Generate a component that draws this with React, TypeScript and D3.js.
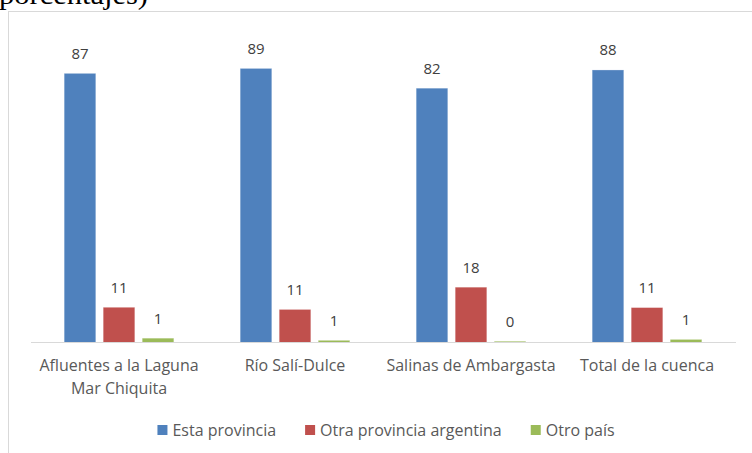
import React from "react";
import * as d3 from "d3";

const categories: string[][] = [
  ["Afluentes a la Laguna", "Mar Chiquita"],
  ["Río Salí-Dulce"],
  ["Salinas de Ambargasta"],
  ["Total de la cuenca"],
];
const seriesNames = ["Esta provincia", "Otra provincia argentina", "Otro país"];
const estaProvincia = [87.1, 88.7, 82.3, 88.2];
const otraProvincia = [11.4, 10.7, 17.9, 11.3];
const otroPais = [1.4, 0.7, 0.4, 1.0];
const colors = ["#4F81BD", "#C0504D", "#9BBB59"];
const headerText = "porcentajes)";

const W = 752;
const H = 453;
const FONT = "'Open Sans', sans-serif";

function measure(text: string, font: string): number {
  const c = document.createElement("canvas");
  const ctx = c.getContext("2d")!;
  ctx.font = font;
  return ctx.measureText(text).width;
}

export default function App() {
  const seriesValues = [estaProvincia, otraProvincia, otroPais];
  const catKeys = categories.map((c) => c.join(" "));
  const x0 = d3.scaleBand<string>().domain(catKeys).range([31, 735]).padding(0);
  const x1 = d3
    .scaleBand<string>()
    .domain(seriesNames)
    .range([0, x0.bandwidth()])
    .paddingInner(0.19)
    .paddingOuter(0.85);
  const y = d3.scaleLinear().domain([0, 100]).range([342.5, 33.5]);
  const fmt = d3.format(".0f");

  // legend layout
  const legendFontSize = 16;
  const legendFont = `${legendFontSize}px 'Open Sans'`;
  const sq = 10;
  const gapText = 5;
  const gapItem = 29;
  const widths = seriesNames.map((s) => measure(s, legendFont));
  const total =
    widths.reduce((a, b) => a + b, 0) + seriesNames.length * (sq + gapText) + (seriesNames.length - 1) * gapItem;
  let lx = 386 - total / 2;
  const legendItems = seriesNames.map((s, i) => {
    const item = { name: s, x: lx, color: colors[i] };
    lx += sq + gapText + widths[i] + gapItem;
    return item;
  });
  const legendY = 430;

  return (
    <svg
      width={W}
      height={H}
      style={{ position: "absolute", left: 0, top: 0, background: "#fff" }}
    >
      <rect x={0} y={0} width={W} height={H} fill="#fff" />
      <text
        x={-1}
        y={4}
        fontFamily="'Liberation Serif', 'Times New Roman', serif"
        fontSize={27}
        fill="#000"
        textLength={149}
        lengthAdjust="spacingAndGlyphs"
      >
        {headerText}
      </text>
      <rect x={8.5} y={11.5} width={800} height={500} fill="none" stroke="#d9d9d9" strokeWidth={1} />

      {catKeys.map((ck, ci) => (
        <g key={ck} transform={`translate(${x0(ck)},0)`}>
          {seriesNames.map((s, si) => {
            const v = seriesValues[si][ci];
            const bx = x1(s)!;
            const by = y(v);
            return (
              <g key={s}>
                <rect
                  x={bx}
                  y={by}
                  width={x1.bandwidth()}
                  height={y(0) - by}
                  fill={colors[si]}
                  stroke="#ffffff"
                  strokeOpacity={0.35}
                  strokeWidth={0.8}
                />
                <text
                  x={bx + x1.bandwidth() / 2}
                  y={by - 14.5}
                  textAnchor="middle"
                  fontFamily={FONT}
                  fontSize={15}
                  fill="#404040"
                >
                  {fmt(v)}
                </text>
              </g>
            );
          })}
        </g>
      ))}

      <line x1={31} x2={736} y1={342.5} y2={342.5} stroke="#d9d9d9" strokeWidth={1.2} />

      {categories.map((lines, ci) => (
        <text
          key={ci}
          x={x0(catKeys[ci])! + x0.bandwidth() / 2}
          y={371}
          textAnchor="middle"
          fontFamily={FONT}
          fontSize={16}
          fill="#595959"
        >
          {lines.map((l, li) => (
            <tspan key={li} x={x0(catKeys[ci])! + x0.bandwidth() / 2} dy={li === 0 ? 0 : 22.5}>
              {l}
            </tspan>
          ))}
        </text>
      ))}

      {legendItems.map((it) => (
        <g key={it.name}>
          <rect x={it.x} y={legendY - sq / 2} width={sq} height={sq} fill={it.color} />
          <text
            x={it.x + sq + gapText}
            y={legendY + 5.5}
            fontFamily={FONT}
            fontSize={legendFontSize}
            fill="#595959"
          >
            {it.name}
          </text>
        </g>
      ))}
    </svg>
  );
}
